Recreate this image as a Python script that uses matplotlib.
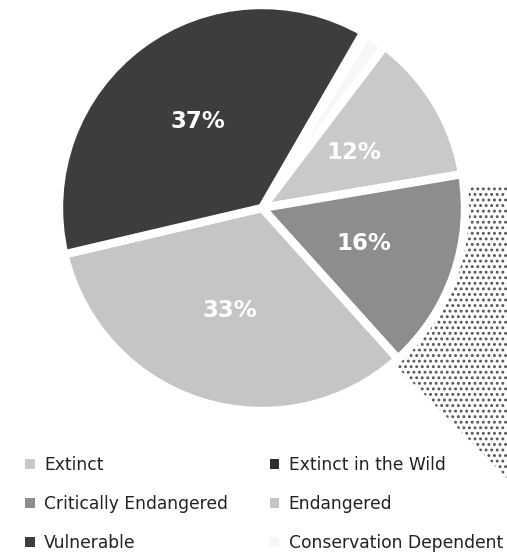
"""
Pie chart of species by conservation status (scanned grey look).
"""

import matplotlib
matplotlib.use("Agg")
import matplotlib.pyplot as plt
from matplotlib.patches import Patch, Polygon

# legend order
labels = ["Extinct", "Extinct in the Wild", "Critically Endangered",
          "Endangered", "Vulnerable", "Conservation Dependent"]
values = [12, 0.3, 16, 33, 37, 1.7]
colors = ["#c9c9c9", "#2e2e2e", "#8d8d8d", "#c5c5c5", "#3d3d3d", "#f7f7f7"]

# clockwise order of the slices, starting at the top-right gap
pie_order = [1, 5, 0, 2, 3, 4]
legend_order = [0, 2, 4, 1, 3, 5]

plt.rcParams['font.family'] = ['DejaVu Sans']
plt.rcParams['hatch.linewidth'] = 1.3

fig = plt.figure(figsize=(5.07, 5.52), dpi=100)

# halftone smudge from the scan, sits behind the pie
W, H = 507, 552
smudge = [(465, 186), (507, 186), (507, 478), (392, 362)]
fig.add_artist(Polygon([(x / W, 1 - y / H) for x, y in smudge], closed=True,
                       transform=fig.transFigure, facecolor="white",
                       edgecolor="#555555", hatch="...", linewidth=0,
                       zorder=0))

ax = fig.add_axes([57 / W, 1 - 413 / H, 410 / W, 410 / H])
ax.set_zorder(1)
ax.patch.set_alpha(0)

def pct(p):
    return "%d%%" % round(p) if p >= 5 else ""

wedges, texts, autotexts = ax.pie(
    [values[i] for i in pie_order],
    colors=[colors[i] for i in pie_order],
    startangle=60, counterclock=False, radius=1.015,
    autopct=pct, pctdistance=0.53,
    wedgeprops=dict(edgecolor="white", linewidth=6),
    textprops=dict(color="white", fontsize=16.5, fontweight="bold"))
ax.set_xlim(-1.025, 1.025)
ax.set_ylim(-1.025, 1.025)
ax.set_aspect("equal")

handles = [Patch(facecolor=colors[i], edgecolor="none") for i in legend_order]
fig.legend(handles, [labels[i] for i in legend_order], ncol=2,
           loc="upper left", bbox_to_anchor=(10 / W, 1 - 441 / H),
           frameon=False, fontsize=12.3, labelcolor="#222222",
           handlelength=0.55, handleheight=0.55, handletextpad=0.55,
           labelspacing=1.22, columnspacing=2.45)

fig.savefig("out.png", dpi=100)
